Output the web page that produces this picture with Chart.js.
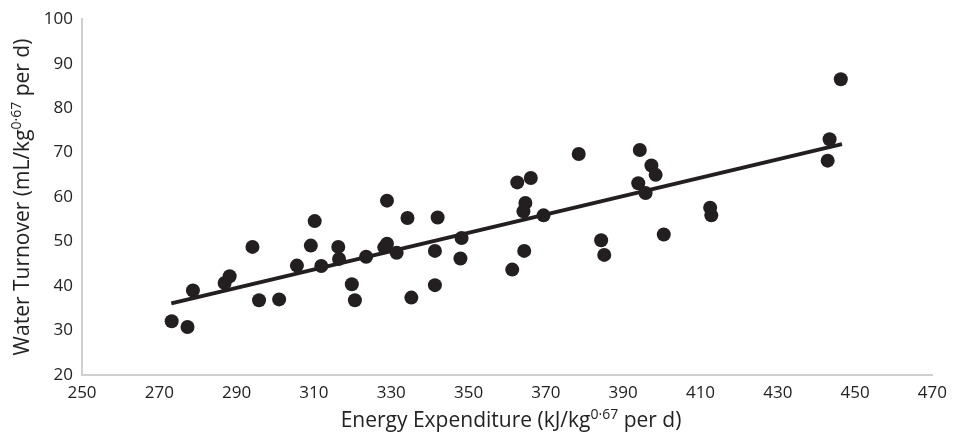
<!DOCTYPE html>
<html lang="en">
  <head>
    <meta charset="UTF-8" />
    <title>Water turnover vs energy expenditure</title>
    <script src="https://cdn.jsdelivr.net/npm/chart.js@4.4.0/dist/chart.umd.min.js"></script>
    <style>
      html, body { margin: 0; padding: 0; background: #fff; }
      #wrap { width: 955px; height: 444px; }
    </style>
  </head>
  <body>
    <div id="wrap"><canvas id="chart"></canvas></div>

    <script>
      // energy expenditure (kJ/kg^0.67 per d)
      const energyX = [
        273.2, 277.3, 278.7, 286.9, 288.2, 294.1, 295.8, 301.0, 305.6, 309.2,
        310.2, 311.9, 316.3, 316.5, 319.8, 320.6, 323.5, 328.9, 328.9, 328.2,
        331.4, 334.2, 335.2, 341.3, 341.3, 342.0, 348.2, 347.9, 361.3, 362.6,
        364.7, 364.2, 364.4, 366.1, 369.4, 378.5, 384.3, 385.1, 394.3, 393.9,
        395.8, 397.3, 398.4, 400.5, 412.5, 412.8, 442.9, 443.4, 446.3
      ];
      // water turnover (mL/kg^0.67 per d)
      const waterY = [
        32.1, 30.8, 39.0, 40.7, 42.2, 48.8, 36.8, 37.0, 44.6, 49.1,
        54.6, 44.5, 48.8, 46.1, 40.4, 36.8, 46.6, 59.2, 49.5, 48.7,
        47.5, 55.3, 37.4, 47.9, 40.2, 55.4, 50.8, 46.2, 43.7, 63.3,
        58.7, 56.8, 47.9, 64.3, 55.9, 69.7, 50.3, 47.0, 70.6, 63.1,
        60.9, 67.1, 65.0, 51.6, 57.6, 55.9, 68.2, 73.0, 86.5
      ];
      // fitted line end points
      const trendX = [273.1, 446.6];
      const trendY = [36.1, 71.9];

      const xTicks = [250, 270, 290, 310, 330, 350, 370, 390, 410, 430, 450, 470];
      const yTicks = [20, 30, 40, 50, 60, 70, 80, 90, 100];

      const ink = "#231f20";
      const textCol = "#222";
      const fontFam = "'Open Sans', 'DejaVu Sans', sans-serif";

      const xTitle = [
        { t: "Energy Expenditure (kJ/kg" },
        { t: "0·67", sup: true },
        { t: " per d)" },
      ];
      const yTitle = [
        { t: "Water Turnover (mL/kg" },
        { t: "0·67", sup: true },
        { t: " per d)" },
      ];

      // draw text with superscript parts, centred on x
      function drawRich(ctx, parts, cx, baseY, size) {
        const supSize = Math.round(size * 0.66);
        let total = 0;
        parts.forEach((p) => {
          ctx.font = (p.sup ? supSize : size) + "px " + fontFam;
          p.w = ctx.measureText(p.t).width;
          total += p.w;
        });
        let x = cx - total / 2;
        parts.forEach((p) => {
          ctx.font = (p.sup ? supSize : size) + "px " + fontFam;
          ctx.fillText(p.t, x, p.sup ? baseY - size * 0.4 : baseY);
          x += p.w;
        });
      }

      const titlePlugin = {
        id: "richTitles",
        afterDraw(chart) {
          const ctx = chart.ctx;
          ctx.save();
          ctx.fillStyle = textCol;
          ctx.textAlign = "left";
          ctx.textBaseline = "alphabetic";
          drawRich(ctx, xTitle, 511, 427, 21);
          ctx.translate(29, 197);
          ctx.rotate(-Math.PI / 2);
          drawRich(ctx, yTitle, 0, 0, 21);
          ctx.restore();
        },
      };

      const points = energyX.map((x, i) => ({ x: x, y: waterY[i] }));
      const trend = trendX.map((x, i) => ({ x: x, y: trendY[i] }));

      new Chart(document.getElementById("chart"), {
        type: "scatter",
        data: {
          datasets: [
            {
              label: "Fit",
              type: "line",
              data: trend,
              borderColor: ink,
              borderWidth: 4,
              pointRadius: 0,
              fill: false,
              order: 2,
            },
            {
              label: "Animals",
              data: points,
              backgroundColor: ink,
              borderColor: ink,
              borderWidth: 0,
              pointRadius: 7,
              order: 1,
            },
          ],
        },
        options: {
          responsive: true,
          maintainAspectRatio: false,
          animation: false,
          layout: { padding: { top: 18, right: 17, left: 0, bottom: 0 } },
          plugins: {
            legend: { display: false },
            tooltip: { enabled: false },
          },
          scales: {
            x: {
              type: "linear",
              min: 250,
              max: 470,
              afterBuildTicks: (s) => { s.ticks = xTicks.map((v) => ({ value: v })); },
              afterFit: (s) => { s.height = 69; },
              grid: { display: false, drawTicks: false },
              border: { display: true, color: "#d0d0d0", width: 2 },
              ticks: {
                color: textCol,
                padding: 8,
                maxRotation: 0,
                font: { family: fontFam, size: 17 },
              },
            },
            y: {
              type: "linear",
              min: 20,
              max: 100,
              afterBuildTicks: (s) => { s.ticks = yTicks.map((v) => ({ value: v })); },
              afterFit: (s) => { s.width = 82; },
              grid: { display: false, drawTicks: false },
              border: { display: true, color: "#d0d0d0", width: 2 },
              ticks: {
                color: textCol,
                padding: 9,
                font: { family: fontFam, size: 17 },
              },
            },
          },
        },
        plugins: [titlePlugin],
      });
    </script>
  </body>
</html>
